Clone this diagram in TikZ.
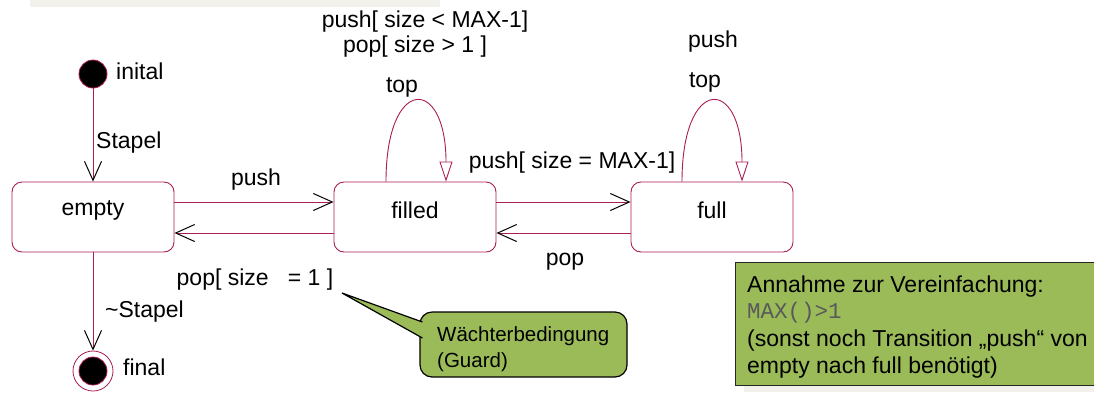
\documentclass[tikz,border=0pt]{standalone}
\usepackage{fontspec}
\setmainfont{Liberation Sans}
\setmonofont{Liberation Mono}
\usetikzlibrary{arrows.meta}
\definecolor{maroon}{RGB}{170,30,85}
\definecolor{notegreen}{RGB}{155,187,89}
\definecolor{slidegrey}{RGB}{242,241,236}
\begin{document}
\begin{tikzpicture}[x=1pt,y=-1pt,
  state/.style={draw=maroon, line width=0.9pt, rounded corners=10pt, minimum width=162pt, minimum height=70pt, fill=white, inner sep=0pt},
  trans/.style={draw=maroon, line width=0.9pt, -{Straight Barb[length=19pt,width=17pt,color=black,line width=1pt]}},
  selfloop/.style={draw=maroon, line width=0.9pt, -{Triangle[open,length=20pt,width=13pt,fill=white]}},
  lbl/.style={font=\fontsize{23}{27}\selectfont, inner sep=0pt},
  note/.style={font=\fontsize{23}{27}\selectfont, inner sep=0pt, anchor=base west},
  statetext/.style={label={[lbl, yshift=7pt]center:#1}}
]
\clip (0,0) rectangle (1094,392);
\fill[white] (0,0) rectangle (1094,392);
\fill[slidegrey] (30,0) rectangle (440,7);

% states
\node[circle, fill=black, draw=maroon, line width=0.8pt, minimum size=28pt, inner sep=0pt] (init) at (93,74) {};
\node[state, statetext=empty] (empty) at (93,217) {};
\node[state, statetext=filled] (filled) at (415,217) {};
\node[state, statetext=full] (full) at (712,217) {};
\node[circle, draw=maroon, fill=white, line width=0.8pt, minimum size=40pt, inner sep=0pt] (final) at (93,371) {};
\node[circle, fill=black, draw=maroon, line width=0.8pt, minimum size=28pt, inner sep=0pt] (finalin) at (final.center) {};

% transitions
\draw[trans] (init) -- (empty);
\draw[trans] (empty) -- (final);
\draw[trans] ([yshift=15pt]empty.east) -- ([yshift=15pt]filled.west);
\draw[trans] ([yshift=-16pt]filled.west) -- ([yshift=-16pt]empty.east);
\draw[trans] ([yshift=15pt]filled.east) -- ([yshift=15pt]full.west);
\draw[trans] ([yshift=-16pt]full.west) -- ([yshift=-16pt]filled.east);
\draw[selfloop] ([xshift=-29pt]filled.north) .. controls +(0,-106) and +(0,-106) .. ([xshift=31pt]filled.north);
\draw[selfloop] ([xshift=-30pt]full.north) .. controls +(0,-106) and +(0,-106) .. ([xshift=30pt]full.north);

% labels
\node[lbl, anchor=west] (linit) at (116,71) {inital};
\node[lbl, anchor=west] (lstapel) at (96,143) {Stapel};
\node[lbl, anchor=west] (lnstapel) at (105,312) {\textasciitilde Stapel};
\node[lbl, anchor=west] (lfinal) at (123,367) {final};
\node[lbl] (lpush1) at (256,180) {push};
\node[lbl] (lpop1) at (255,280) {pop[ size\ \ \ = 1 ]};
\node[lbl] (lpushlt) at (425,22) {push[ size < MAX-1]};
\node[lbl] (lpopgt) at (415,47) {pop[ size > 1 ]};
\node[lbl] (ltop1) at (402,87) {top};
\node[lbl] (lpush2) at (713,42) {push};
\node[lbl] (ltop2) at (705,82) {top};
\node[lbl] (lpusheq) at (572,163) {push[ size = MAX-1]};
\node[lbl] (lpop2) at (565,262) {pop};

% guard callout
\node[draw=black, line width=1.2pt, fill=notegreen, rounded corners=12pt, minimum width=207pt, minimum height=65pt, inner sep=0pt] (guard) at (523.5,344.5) {};
\coordinate (guardtip) at (342,293);
\filldraw[fill=notegreen, draw=black, line width=1.2pt, line join=miter] ([xshift=3pt,yshift=22.5pt]guard.west) -- (guardtip) -- ([xshift=3pt,yshift=6.5pt]guard.west);
\node[font=\fontsize{20.5}{26}\selectfont, inner sep=0pt, anchor=base west] (guardA) at (437,341) {Wächterbedingung};
\node[font=\fontsize{20.5}{26}\selectfont, inner sep=0pt, anchor=base west] (guardB) at (437,367) {(Guard)};

% assumption note
\fill[slidegrey] (744,385) rectangle (1094,392);
\node[draw=black!85, line width=1.3pt, fill=notegreen, minimum width=370pt, minimum height=123pt, inner sep=0pt, anchor=north west] (assume) at (735,262) {};
\node[note] (noteA) at (747,292) {Annahme zur Vereinfachung:};
\node[note, font=\fontsize{22.5}{27}\ttfamily, text=black!65] (noteB) at (747,318) {MAX()>1};
\node[note] (noteC) at (747,346) {(sonst noch Transition „push“ von};
\node[note] (noteD) at (747,373) {empty nach full benötigt)};
\end{tikzpicture}
\end{document}
